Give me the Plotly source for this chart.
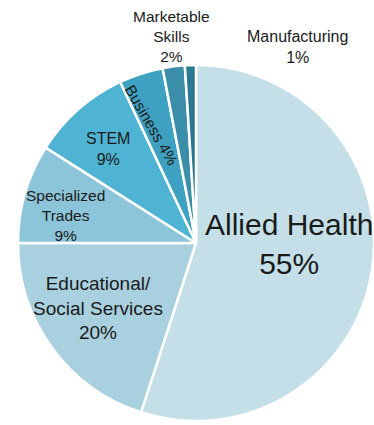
import plotly.graph_objects as go

categories = ["Allied Health", "Educational/<br>Social Services", "Specialized<br>Trades",
              "STEM", "Business", "Marketable<br>Skills", "Manufacturing"]
values = [55, 20, 9, 9, 4, 2, 1]
colors = ["#c5dfe9", "#a9d0df", "#8cc5d9", "#4fb3d3", "#3ea1c1", "#3a8ea8", "#2b7990"]

# label layout (pixel centres, font size, angle) - styling only
label_pos = [(289, 244), (98, 308), (65, 216), (108, 149), (152, 125), (171, 37), (297, 47)]
label_size = [30, 19, 15.5, 16, 15.5, 15.5, 16]
label_angle = [0, 0, 0, 0, 60, 0, 0]
single_line = [False, False, False, False, True, False, False]

W, H = 374, 425
FONT = "Liberation Sans, Arial, sans-serif"

fig = go.Figure()
fig.add_trace(go.Pie(
    labels=categories,
    values=values,
    sort=False,
    direction="clockwise",
    rotation=0,
    marker=dict(colors=colors, line=dict(color="white", width=2.5)),
    textinfo="none",
    showlegend=False,
    hoverinfo="label+percent",
    domain=dict(x=[18 / W, 1.0], y=[2 / H, 362 / H]),
))

annotations = []
for cat, val, (px, py), sz, ang, one in zip(categories, values, label_pos, label_size,
                                            label_angle, single_line):
    sep = " " if one else "<br>"
    annotations.append(dict(
        x=px / W, y=1 - py / H, xref="paper", yref="paper",
        xanchor="center", yanchor="middle",
        text=f"{cat}{sep}{val}%", showarrow=False, textangle=ang,
        font=dict(size=sz, color="#1a1a1a", family=FONT),
    ))

fig.update_layout(
    width=W, height=H,
    margin=dict(l=0, r=0, t=0, b=0),
    paper_bgcolor="white",
    plot_bgcolor="white",
    font=dict(family=FONT, color="#1a1a1a"),
    annotations=annotations,
)

fig.write_html("out.html")
